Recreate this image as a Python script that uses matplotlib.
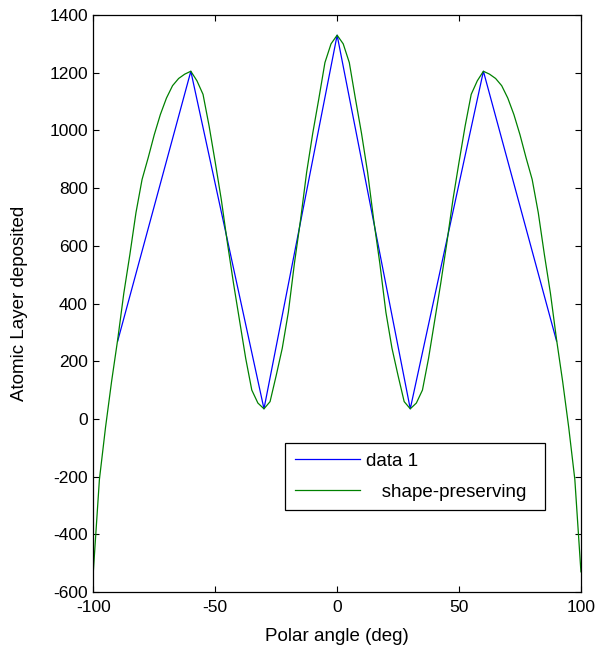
import matplotlib
matplotlib.use("Agg")
import matplotlib.pyplot as plt

plt.rcParams['font.family'] = ['Liberation Sans', 'DejaVu Sans']
plt.rcParams['font.size'] = 12.5
plt.rcParams['axes.unicode_minus'] = False

## data 1 (coarse points)
angle_data = [-90, -60, -30, 0, 30, 60, 90]
layer_data = [270, 1205, 35, 1330, 35, 1205, 270]

## shape-preserving curve
angle_fit = [-100, -97.5, -95, -92.5, -90, -87.5, -85, -82.5, -80, -77.5, -75,
             -72.5, -70, -67.5, -65, -62.5, -60, -57.5, -55, -52.5, -50,
             -47.5, -45, -42.5, -40, -37.5, -35, -32.5, -30, -27.5, -25,
             -22.5, -20, -17.5, -15, -12.5, -10, -7.5, -5, -2.5, 0,
             2.5, 5, 7.5, 10, 12.5, 15, 17.5, 20, 22.5, 25,
             27.5, 30, 32.5, 35, 37.5, 40, 42.5, 45, 47.5, 50,
             52.5, 55, 57.5, 60, 62.5, 65, 67.5, 70, 72.5, 75,
             77.5, 80, 82.5, 85, 87.5, 90, 92.5, 95, 97.5, 100]
layer_fit = [-530, -210, -30, 130, 275, 435, 570, 715, 830, 905, 985,
             1055, 1112, 1155, 1180, 1195, 1205, 1172, 1125, 1015, 890,
             760, 610, 470, 340, 210, 100, 55, 35, 60, 150,
             245, 370, 540, 690, 855, 990, 1110, 1235, 1300, 1330,
             1300, 1235, 1110, 990, 855, 690, 540, 370, 245, 150,
             60, 35, 55, 100, 210, 340, 470, 610, 760, 890,
             1015, 1125, 1172, 1205, 1195, 1180, 1155, 1112, 1055, 985,
             905, 830, 715, 570, 435, 275, 130, -30, -210, -530]

fig = plt.figure(figsize=(6.02, 6.52), dpi=100)
ax = fig.add_axes([0.155, 0.092, 0.81, 0.885])

ax.plot(angle_data, layer_data, color=(0, 0, 1), lw=0.9, label='data 1')
ax.plot(angle_fit, layer_fit, color=(0, 0.5, 0), lw=0.9, label='   shape-preserving')

ax.set_xlim(-100, 100)
ax.set_ylim(-600, 1400)
ax.set_xticks([-100, -50, 0, 50, 100])
ax.set_yticks(range(-600, 1401, 200))
ax.tick_params(direction='in', top=True, right=True, length=4, width=0.8,
               colors='black', pad=4, labelsize=12.5)
ax.tick_params(axis='x', pad=6)
for s in ax.spines.values():
    s.set_linewidth(0.9)

ax.set_xlabel('Polar angle (deg)', fontsize=13.5, labelpad=9)
ax.set_ylabel('Atomic Layer deposited', fontsize=13.5, labelpad=15)

leg = ax.legend(loc='lower left', bbox_to_anchor=(0.394, 0.142, 0.532, 0.112), mode='expand',
                fancybox=False, edgecolor='black', framealpha=1, handlelength=3.5,
                borderaxespad=0, handletextpad=0.3, labelspacing=0.75,
                fontsize=13.5, borderpad=0.5)
leg.get_frame().set_linewidth(0.9)

fig.savefig('out.png', dpi=100)
